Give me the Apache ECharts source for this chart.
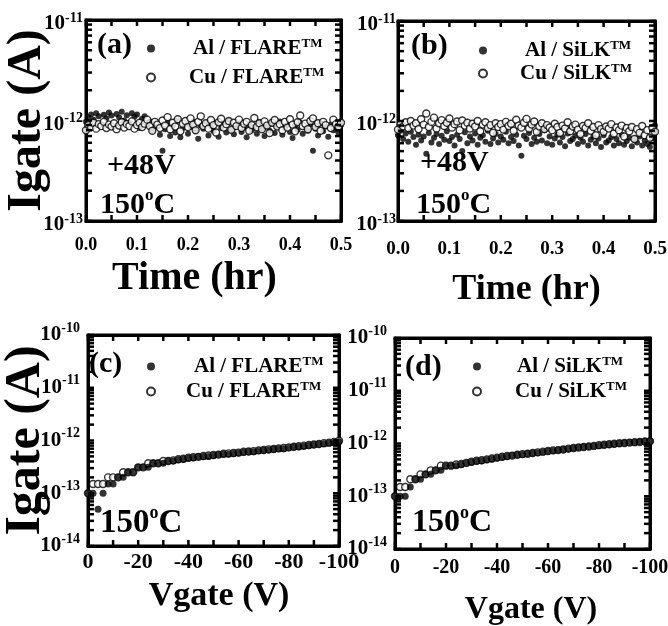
<!DOCTYPE html>
<html>
  <head>
    <meta charset="utf-8" />
    <title>Igate vs time and Vgate</title>
    <style>
      body {
        margin: 0;
        padding: 0;
        background: #fff;
      }
      #page {
        position: relative;
        width: 668px;
        height: 626px;
        overflow: hidden;
      }
      .panel {
        position: absolute;
      }
    </style>
  </head>
  <body>
    <div id="page"></div>
    <script src="https://cdn.jsdelivr.net/npm/echarts@6/dist/echarts.min.js"></script>
    <script>
      // measurement times (hr), panels (a) and (b)
      var timeHr = [
        0, 0.005, 0.01, 0.015, 0.02, 0.025, 0.03, 0.035, 0.04, 0.045,
        0.05, 0.055, 0.06, 0.065, 0.07, 0.075, 0.08, 0.085, 0.09, 0.095,
        0.1, 0.105, 0.11, 0.115, 0.12, 0.125, 0.13, 0.135, 0.14, 0.145,
        0.15, 0.155, 0.16, 0.165, 0.17, 0.175, 0.18, 0.185, 0.19, 0.195,
        0.2, 0.205, 0.21, 0.215, 0.22, 0.225, 0.23, 0.235, 0.24, 0.245,
        0.25, 0.255, 0.26, 0.265, 0.27, 0.275, 0.28, 0.285, 0.29, 0.295,
        0.3, 0.305, 0.31, 0.315, 0.32, 0.325, 0.33, 0.335, 0.34, 0.345,
        0.35, 0.355, 0.36, 0.365, 0.37, 0.375, 0.38, 0.385, 0.39, 0.395,
        0.4, 0.405, 0.41, 0.415, 0.42, 0.425, 0.43, 0.435, 0.44, 0.445,
        0.45, 0.455, 0.46, 0.465, 0.47, 0.475, 0.48, 0.485, 0.49, 0.495,
        0.5
      ];
      // Igate in pA
      var alFlareTime = [
        0.97, 1.08, 1.15, 1.02, 1.18, 1.10, 0.92, 1.14, 1.05, 1.20,
        1.12, 0.86, 1.16, 1.07, 1.22, 1.00, 1.13, 0.95, 1.18, 1.09,
        1.15, 0.84, 1.04, 1.10, 0.90, 0.98, 0.80, 0.93, 0.87, 0.72,
        0.50, 0.82, 0.95, 0.70, 0.88, 0.76, 1.00, 0.68, 0.84, 0.92,
        0.74, 0.86, 0.97, 0.79, 0.66, 0.89, 0.83, 0.93, 0.71, 0.87,
        0.78, 0.95, 0.69, 0.84, 0.90, 0.76, 0.99, 0.81, 0.73, 0.88,
        0.94, 0.77, 0.85, 0.68, 0.91, 0.80, 0.87, 0.74, 0.96, 0.82,
        0.70, 0.88, 0.79, 0.93, 0.75, 0.86, 0.98, 0.72, 0.84, 0.90,
        0.77, 0.67, 0.89, 0.81, 0.95, 0.74, 0.86, 0.79, 0.92, 0.50,
        0.83, 0.71, 0.94, 0.78, 0.87, 0.69, 0.91, 0.80, 0.85, 0.76,
        0.90
      ];
      var cuFlareTime = [
        0.80, 0.90, 0.86, 0.95, 0.83, 0.92, 0.88, 0.97, 0.84, 0.91,
        0.87, 0.94, 0.82, 0.89, 0.96, 0.85, 0.92, 0.88, 0.98, 0.83,
        0.90, 0.95, 0.86, 0.93, 1.02, 0.88, 0.79, 0.97, 0.91, 0.84,
        1.00, 0.89, 1.08, 0.82, 0.95, 0.87, 1.03, 0.78, 0.93, 0.99,
        0.86, 1.05, 0.91, 0.80, 0.97, 1.10, 0.88, 0.94, 0.83, 1.01,
        0.90, 0.76, 0.96, 1.04, 0.85, 0.92, 0.99, 0.81, 0.95, 0.88,
        1.02, 0.84, 0.93, 0.97, 0.79, 0.90, 1.06, 0.86, 0.94, 0.82,
        0.98, 0.89, 0.75, 0.95, 1.01, 0.87, 0.92, 0.80, 0.97, 0.85,
        1.03, 0.91, 0.78, 0.96, 1.12, 0.88, 0.93, 0.82, 0.99, 1.05,
        0.86, 0.94, 0.79, 0.97, 0.90, 0.45, 0.84, 1.02, 0.92, 0.87,
        0.95
      ];
      var alSilkTime = [
        0.72, 0.80, 0.66, 0.75, 0.62, 0.78, 0.69, 0.58, 0.73, 0.64,
        0.70, 0.47, 0.76, 0.61, 0.68, 0.74, 0.59, 0.71, 0.65, 0.79,
        0.63, 0.69, 0.57, 0.73, 0.66, 0.50, 0.77, 0.60, 0.70, 0.64,
        0.75, 0.58, 0.68, 0.72, 0.62, 0.80, 0.59, 0.67, 0.74, 0.61,
        0.70, 0.65, 0.78, 0.60, 0.69, 0.63, 0.73, 0.57, 0.45, 0.71,
        0.66, 0.76, 0.59, 0.68, 0.62, 0.74, 0.64, 0.81, 0.60, 0.70,
        0.58, 0.67, 0.73, 0.61, 0.69, 0.56, 0.75, 0.63, 0.66, 0.71,
        0.59, 0.68, 0.62, 0.74, 0.57, 0.65, 0.70, 0.60, 0.67, 0.55,
        0.72, 0.61, 0.64, 0.69, 0.57, 0.66, 0.60, 0.73, 0.58, 0.63,
        0.68, 0.56, 0.65, 0.61, 0.70, 0.57, 0.64, 0.59, 0.55, 0.67,
        0.90
      ];
      var cuSilkTime = [
        0.82, 0.93, 0.88, 0.97, 0.85, 1.00, 0.90, 0.95, 0.83, 1.04,
        0.92, 1.19, 0.87, 0.98, 1.08, 0.84, 0.95, 1.02, 0.89, 0.96,
        1.06, 0.86, 0.93, 0.99, 0.81, 1.01, 0.90, 0.96, 0.84, 0.94,
        0.88, 1.00, 0.79, 0.92, 0.97, 0.85, 0.91, 0.76, 0.95, 0.87,
        0.93, 0.82, 0.98, 0.89, 0.94, 0.80, 1.03, 0.90, 0.86, 0.96,
        1.05, 0.84, 0.92, 0.99, 0.78, 0.88, 0.95, 0.83, 0.91, 0.86,
        0.81, 0.94, 0.87, 0.76, 0.90, 0.84, 0.97, 0.79, 0.88, 0.92,
        0.82, 0.74, 0.89, 0.85, 0.95, 0.80, 0.87, 0.72, 0.91, 0.83,
        0.78, 0.88, 0.84, 0.93, 0.75, 0.86, 0.81, 0.90, 0.70, 0.85,
        0.79, 0.87, 0.66, 0.83, 0.76, 0.89, 0.72, 0.81, 0.68, 0.85,
        0.78
      ];

      // gate voltage sweep (V), panels (c) and (d)
      var vgate = [
        0, -2, -4, -6, -8, -10, -12, -14, -16, -18,
        -20, -22, -24, -26, -28, -30, -32, -34, -36, -38,
        -40, -42, -44, -46, -48, -50, -52, -54, -56, -58,
        -60, -62, -64, -66, -68, -70, -72, -74, -76, -78,
        -80, -82, -84, -86, -88, -90, -92, -94, -96, -98, -100
      ];
      // Igate in pA
      var alFlareIV = [
        0.10, 0.10, 0.05, 0.10, 0.15, 0.15, 0.20, 0.20, 0.25, 0.25,
        0.31, 0.31, 0.31, 0.37, 0.37, 0.37, 0.41, 0.41, 0.43, 0.44,
        0.46, 0.47, 0.49, 0.50, 0.50, 0.52, 0.54, 0.55, 0.55, 0.57,
        0.58, 0.60, 0.61, 0.61, 0.64, 0.65, 0.66, 0.68, 0.70, 0.70,
        0.73, 0.75, 0.76, 0.78, 0.80, 0.83, 0.85, 0.87, 0.90, 0.92, 0.95
      ];
      var cuFlareIV = [
        0.10, 0.15, 0.15, 0.15, 0.20, 0.20, 0.20, 0.25, 0.25, 0.25,
        0.31, 0.31, 0.37, 0.37, 0.37, 0.41, 0.41, 0.42, 0.44, 0.45,
        0.47, 0.48, 0.49, 0.51, 0.52, 0.53, 0.54, 0.56, 0.57, 0.58,
        0.59, 0.61, 0.62, 0.63, 0.65, 0.66, 0.68, 0.69, 0.71, 0.72,
        0.74, 0.76, 0.78, 0.80, 0.82, 0.84, 0.86, 0.89, 0.91, 0.94, 0.99
      ];
      var alSilkIV = [
        0.10, 0.10, 0.10, 0.15, 0.21, 0.21, 0.26, 0.26, 0.31, 0.31,
        0.38, 0.38, 0.38, 0.40, 0.42, 0.44, 0.46, 0.47, 0.49, 0.51,
        0.53, 0.55, 0.57, 0.59, 0.61, 0.62, 0.64, 0.65, 0.67, 0.69,
        0.71, 0.73, 0.75, 0.77, 0.79, 0.81, 0.84, 0.86, 0.88, 0.90,
        0.92, 0.94, 0.96, 0.98, 1.00, 1.02, 1.04, 1.06, 1.08, 1.09, 1.10
      ];
      var cuSilkIV = [
        0.10, 0.15, 0.15, 0.21, 0.21, 0.26, 0.26, 0.31, 0.31, 0.38,
        0.38, 0.38, 0.40, 0.41, 0.43, 0.45, 0.47, 0.48, 0.50, 0.52,
        0.54, 0.56, 0.58, 0.59, 0.61, 0.63, 0.64, 0.66, 0.68, 0.70,
        0.72, 0.74, 0.75, 0.77, 0.80, 0.82, 0.84, 0.86, 0.88, 0.90,
        0.93, 0.95, 0.97, 0.99, 1.01, 1.02, 1.04, 1.06, 1.07, 1.09, 1.10
      ];

      // frame tick positions
      var timeTicks = [0, 0.05, 0.1, 0.15, 0.2, 0.25, 0.3, 0.35, 0.4, 0.45, 0.5];
      var vgateTicks = [0, -10, -20, -30, -40, -50, -60, -70, -80, -90, -100];
      var mantissas = [1, 2, 3, 4, 5, 6, 7, 8, 9];

      var AL_FLARE = 'Al / FLARE™';
      var CU_FLARE = 'Cu / FLARE™';
      var AL_SILK = 'Al / SiLK™';
      var CU_SILK = 'Cu / SiLK™';
      var FONT = '"Liberation Serif", "Times New Roman", serif';

      function logTicks(loExp, hiExp) {
        var out = [];
        for (var e = loExp; e < hiExp; e++) {
          mantissas.forEach(function (m) {
            out.push(m * Math.pow(10, e));
          });
        }
        out.push(Math.pow(10, hiExp));
        return out;
      }

      function pairs(xs, ys) {
        return xs.map(function (x, i) {
          return [x, ys[i] * 1e-12];
        });
      }

      // positions below are page pixels; each panel is drawn in its own box
      var panels = [
        {
          box: { left: 0, top: 0, width: 366, height: 318 },
          grid: { left: 86, top: 20, width: 255, height: 201 },
          x: { min: 0, max: 0.5, interval: 0.1, inverse: false, fmt: 1, size: 18, margin: 15, ticks: timeTicks },
          xName: { text: 'Time (hr)', size: 40, gap: 37, pad: [0, 38, 0, 0] },
          y: { min: 1e-13, max: 1e-11, lo: -13, hi: -11, b: 21, s: 14, bPad: [8, 0, 0, 0], sPad: [0, 0, 4, 0], margin: 3 },
          yName: { text: 'Igate (A)', size: 48, gap: 34 },
          series: [AL_FLARE, CU_FLARE],
          alOnTop: false,
          data: [pairs(timeHr, alFlareTime), pairs(timeHr, cuFlareTime)],
          legend: { left: 141, top: 32, gap: 7, pads: [33, 29] },
          texts: [['(a)', 97, 45, 30], ['+48V', 107, 166, 30]],
          degC: [100, 205, 30]
        },
        {
          box: { left: 340, top: 0, width: 328, height: 318 },
          grid: { left: 398, top: 21, width: 257, height: 200 },
          x: { min: 0, max: 0.5, interval: 0.1, inverse: false, fmt: 1, size: 19, margin: 19, ticks: timeTicks },
          xName: { text: 'Time (hr)', size: 36, gap: 51, pad: [0, 0, 0, 0] },
          y: { min: 1e-13, max: 1e-11, lo: -13, hi: -11, b: 21, s: 14, bPad: [8, 0, 0, 0], sPad: [0, 0, 4, 0], margin: 2 },
          yName: null,
          series: [AL_SILK, CU_SILK],
          alOnTop: false,
          data: [pairs(timeHr, alSilkTime), pairs(timeHr, cuSilkTime)],
          legend: { left: 473, top: 34, gap: 1, pads: [33, 28] },
          texts: [['(b)', 411, 46, 30], ['+48V', 420, 163, 30]],
          degC: [416, 205, 30]
        },
        {
          box: { left: 0, top: 318, width: 366, height: 308 },
          grid: { left: 88, top: 335, width: 251, height: 211 },
          x: { min: -100, max: 0, interval: 20, inverse: true, fmt: 0, size: 22, margin: 5, ticks: vgateTicks },
          xName: { text: 'Vgate (V)', size: 34, gap: 33, pad: [0, 0, 0, 11] },
          y: { min: 1e-14, max: 1e-10, lo: -14, hi: -10, b: 21, s: 14, bPad: [0, 0, 0, 0], sPad: [0, 0, 14, 0], margin: 8 },
          yName: { text: 'Igate (A)', size: 50, gap: 37 },
          series: [AL_FLARE, CU_FLARE],
          alOnTop: true,
          data: [pairs(vgate, alFlareIV), pairs(vgate, cuFlareIV)],
          legend: { left: 141, top: 350, gap: 3, pads: [34, 26] },
          texts: [['(c)', 89, 364, 30]],
          degC: [100, 523, 33]
        },
        {
          box: { left: 340, top: 318, width: 328, height: 308 },
          grid: { left: 395, top: 338, width: 255, height: 211 },
          x: { min: -100, max: 0, interval: 20, inverse: true, fmt: 0, size: 20, margin: 9, ticks: vgateTicks },
          xName: { text: 'Vgate (V)', size: 32, gap: 45, pad: [0, 0, 0, 17] },
          y: { min: 1e-14, max: 1e-10, lo: -14, hi: -10, b: 21, s: 14, bPad: [0, 0, 0, 0], sPad: [0, 0, 14, 0], margin: 8 },
          yName: null,
          series: [AL_SILK, CU_SILK],
          alOnTop: true,
          data: [pairs(vgate, alSilkIV), pairs(vgate, cuSilkIV)],
          legend: { left: 467, top: 350, gap: 3, pads: [31, 29] },
          texts: [['(d)', 405, 367, 30]],
          degC: [412, 523, 32]
        }
      ];

      function frameLine() {
        return { show: true, onZero: false, lineStyle: { color: '#000', width: 3 } };
      }

      function textEl(text, x, y, size) {
        return {
          type: 'text',
          x: x,
          y: y,
          z: 100,
          style: {
            text: text,
            fill: '#000',
            font: 'bold ' + size + 'px ' + FONT,
            align: 'left',
            verticalAlign: 'middle'
          }
        };
      }
      function degCEl(x, y, size) {
        return {
          type: 'text',
          x: x,
          y: y,
          z: 100,
          style: {
            text: '{n|150}{o|o}{n|C}',
            fill: '#000',
            align: 'left',
            verticalAlign: 'middle',
            rich: {
              n: { fontFamily: FONT, fontWeight: 'bold', fontSize: size, fill: '#000' },
              o: { fontFamily: FONT, fontWeight: 'bold', fontSize: Math.round(size * 0.55), fill: '#000', padding: [0, 0, Math.round(size * 0.6), 0] }
            }
          }
        };
      }

      // inward frame ticks on all four sides, placed through the axes' own scales
      var TICK_LEN = 6;
      function tickLine(x1, y1, x2, y2) {
        return { type: 'line', shape: { x1: x1, y1: y1, x2: x2, y2: y2 }, style: { stroke: '#000', lineWidth: 2.5 } };
      }
      function renderTick(params, api) {
        var cs = params.coordSys;
        var pt = api.coord([api.value(0), api.value(1)]);
        if (api.value(2) === 0) {
          var yb = cs.y + cs.height;
          return {
            type: 'group',
            children: [tickLine(pt[0], yb, pt[0], yb - TICK_LEN), tickLine(pt[0], cs.y, pt[0], cs.y + TICK_LEN)]
          };
        }
        var xr = cs.x + cs.width;
        return {
          type: 'group',
          children: [tickLine(cs.x, pt[1], cs.x + TICK_LEN, pt[1]), tickLine(xr, pt[1], xr - TICK_LEN, pt[1])]
        };
      }

      function buildOption(p) {
        var ox = p.box.left,
          oy = p.box.top;

        function xBase() {
          return {
            type: 'value',
            gridIndex: 0,
            min: p.x.min,
            max: p.x.max,
            interval: p.x.interval,
            inverse: p.x.inverse,
            axisLine: frameLine(),
            axisTick: { show: false },
            splitLine: { show: false }
          };
        }
        function yBase() {
          return {
            type: 'log',
            logBase: 10,
            gridIndex: 0,
            min: p.y.min,
            max: p.y.max,
            axisLine: frameLine(),
            axisTick: { show: false },
            splitLine: { show: false }
          };
        }

        var xBottom = Object.assign(xBase(), {
          position: 'bottom',
          name: p.xName.text,
          nameLocation: 'middle',
          nameGap: p.xName.gap,
          nameTextStyle: {
            fontFamily: FONT,
            fontWeight: 'bold',
            fontSize: p.xName.size,
            color: '#000',
            padding: p.xName.pad
          },
          axisLabel: {
            show: true,
            margin: p.x.margin,
            fontFamily: FONT,
            fontWeight: 'bold',
            fontSize: p.x.size,
            color: '#000',
            formatter: function (v) {
              return Number(v).toFixed(p.x.fmt);
            }
          }
        });
        var xTop = Object.assign(xBase(), { position: 'top', axisLabel: { show: false } });

        var yLeft = Object.assign(yBase(), {
          position: 'left',
          axisLabel: {
            show: true,
            margin: p.y.margin,
            color: '#000',
            formatter: function (v) {
              return '{b|10}{s|' + Math.round(Math.log10(v)) + '}';
            },
            rich: {
              b: { fontFamily: FONT, fontWeight: 'bold', fontSize: p.y.b, color: '#000', padding: p.y.bPad },
              s: { fontFamily: FONT, fontWeight: 'bold', fontSize: p.y.s, color: '#000', padding: p.y.sPad }
            }
          }
        });
        if (p.yName) {
          Object.assign(yLeft, {
            name: p.yName.text,
            nameLocation: 'middle',
            nameRotate: 90,
            nameGap: p.yName.gap,
            nameMoveOverlap: false,
            nameTextStyle: { fontFamily: FONT, fontWeight: 'bold', fontSize: p.yName.size, color: '#000' }
          });
        }
        var yRight = Object.assign(yBase(), { position: 'right', axisLabel: { show: false } });

        var alSeries = {
          name: p.series[0],
          type: 'scatter',
          symbol: 'circle',
          symbolSize: p.alOnTop ? 7 : 6,
          itemStyle: { color: '#000' },
          emphasis: { disabled: true },
          data: p.data[0]
        };
        var cuSeries = {
          name: p.series[1],
          type: 'scatter',
          symbol: 'circle',
          symbolSize: 7,
          itemStyle: { color: '#fff', borderColor: '#000', borderWidth: 1.4 },
          emphasis: { disabled: true },
          data: p.data[1]
        };

        var tickData = p.x.ticks
          .map(function (v) {
            return [v, p.y.min, 0];
          })
          .concat(
            logTicks(p.y.lo, p.y.hi).map(function (v) {
              return [p.x.min, v, 1];
            })
          );
        var tickSeries = {
          type: 'custom',
          name: 'frame ticks',
          silent: true,
          clip: false,
          z: 5,
          encode: { x: 0, y: 1 },
          renderItem: renderTick,
          data: tickData
        };

        var graphics = p.texts.map(function (t) {
          return textEl(t[0], t[1] - ox, t[2] - oy, t[3]);
        });
        graphics.push(degCEl(p.degC[0] - ox, p.degC[1] - oy, p.degC[2]));

        return {
          animation: false,
          grid: [
            {
              show: true,
              borderColor: '#000',
              borderWidth: 3,
              outerBoundsMode: 'none',
              containLabel: false,
              left: p.grid.left - ox,
              top: p.grid.top - oy,
              width: p.grid.width,
              height: p.grid.height
            }
          ],
          xAxis: [xBottom, xTop],
          yAxis: [yLeft, yRight],
          legend: {
            orient: 'vertical',
            left: p.legend.left - ox,
            top: p.legend.top - oy,
            itemGap: p.legend.gap,
            itemWidth: 8,
            itemHeight: 8,
            selectedMode: false,
            data: [
              { name: p.series[0], icon: 'circle', textStyle: { padding: [0, 0, 0, p.legend.pads[0]] } },
              { name: p.series[1], icon: 'circle', textStyle: { padding: [0, 0, 0, p.legend.pads[1]] } }
            ],
            formatter: function (name) {
              return '{t|' + name.replace('™', '') + '}{m|TM}';
            },
            textStyle: {
              color: '#000',
              rich: {
                t: { fontFamily: FONT, fontWeight: 'bold', fontSize: 21, color: '#000' },
                m: { fontFamily: FONT, fontWeight: 'bold', fontSize: 13, color: '#000', padding: [0, 0, 10, 0] }
              }
            }
          },
          series: [tickSeries].concat(p.alOnTop ? [cuSeries, alSeries] : [alSeries, cuSeries]),
          graphic: graphics
        };
      }

      var page = document.getElementById('page');
      panels.forEach(function (p) {
        var el = document.createElement('div');
        el.className = 'panel';
        el.style.left = p.box.left + 'px';
        el.style.top = p.box.top + 'px';
        el.style.width = p.box.width + 'px';
        el.style.height = p.box.height + 'px';
        page.appendChild(el);
        echarts.init(el).setOption(buildOption(p));
      });
    </script>
  </body>
</html>
